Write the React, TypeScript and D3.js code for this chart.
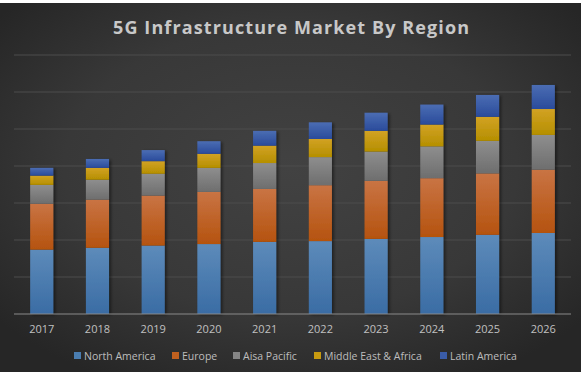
import React from "react";
import * as d3 from "d3";

const years = ["2017", "2018", "2019", "2020", "2021", "2022", "2023", "2024", "2025", "2026"];
const seriesNames = ["North America", "Europe", "Aisa Pacific", "Middle East & Africa", "Latin America"];
const northAmerica = [17.4, 17.9, 18.5, 18.9, 19.5, 19.7, 20.3, 20.8, 21.4, 21.9];
const europe = [12.4, 13.0, 13.5, 14.1, 14.3, 15.1, 15.7, 15.9, 16.6, 17.1];
const asiaPacific = [5.1, 5.4, 5.9, 6.5, 7.0, 7.6, 7.9, 8.6, 8.8, 9.4];
const middleEastAfrica = [2.5, 3.2, 3.4, 3.8, 4.7, 4.9, 5.6, 5.9, 6.5, 7.0];
const latinAmerica = [2.1, 2.4, 3.0, 3.4, 4.0, 4.5, 4.9, 5.4, 5.9, 6.5];
const yTicks = [0, 10, 20, 30, 40, 50, 60, 70];

const colorsTop = ["#5d8bba", "#c97444", "#8e8e8e", "#d2a224", "#4b6db3"];
const colorsBottom = ["#3a6ca4", "#b5530f", "#6e6e6e", "#b58f00", "#2a4b9b"];
const legendColors = ["#4a7db0", "#c0601f", "#858585", "#c79a10", "#3a5ca8"];

const W = 583;
const H = 372;
const plot = { left: 14, right: 571, top: 55, bottom: 314 };

export default function App() {
  const allSeries = [northAmerica, europe, asiaPacific, middleEastAfrica, latinAmerica];
  const table = years.map((y, i) => {
    const row: any = { year: y };
    seriesNames.forEach((s, k) => (row[s] = allSeries[k][i]));
    return row;
  });
  const stacked = d3.stack().keys(seriesNames)(table);
  const x = d3.scaleBand().domain(years).range([plot.left, plot.right]).paddingInner(0.585).paddingOuter(0.29);
  const y = d3.scaleLinear().domain([0, 70]).range([plot.bottom, plot.top]);
  const legendX = [74, 172, 233, 314, 440];

  return (
    <div style={{ position: "absolute", left: 0, top: 0 }}>
      <svg width={W} height={H} style={{ display: "block" }}>
        <defs>
          <radialGradient id="bg" cx="0.5" cy="0.45" r="0.65">
            <stop offset="0" stopColor="#424242" />
            <stop offset="0.6" stopColor="#383838" />
            <stop offset="1" stopColor="#262626" />
          </radialGradient>
          {seriesNames.map((s, k) => (
            <linearGradient key={s} id={`g${k}`} x1="0" y1="0" x2="0" y2="1">
              <stop offset="0" stopColor={colorsTop[k]} />
              <stop offset="1" stopColor={colorsBottom[k]} />
            </linearGradient>
          ))}
          <filter id="sh" x="-30%" y="-10%" width="160%" height="120%">
            <feDropShadow dx="2" dy="1" stdDeviation="1.5" floodColor="#000" floodOpacity="0.45" />
          </filter>
        </defs>
        <rect x={0} y={0} width={W} height={H} fill="#ffffff" />
        <rect x={0} y={3} width={581} height={H - 3} fill="url(#bg)" />
        {yTicks.slice(1).map((t) => (
          <line key={t} x1={plot.left} x2={plot.right} y1={y(t)} y2={y(t)} stroke="#4c4c4c" strokeWidth={1} />
        ))}
        <text
          x={291}
          y={34}
          textAnchor="middle"
          fill="#c8c8c8"
          fontFamily="'Open Sans', sans-serif"
          fontWeight="bold"
          fontSize={18}
          textLength={356}
          lengthAdjust="spacing"
        >
          5G Infrastructure Market By Region
        </text>
        <g filter="url(#sh)">
          {stacked.map((layer, k) =>
            layer.map((d, i) => (
              <rect
                key={`${k}-${i}`}
                x={x(years[i])}
                width={x.bandwidth()}
                y={y(d[1])}
                height={y(d[0]) - y(d[1])}
                fill={`url(#g${k})`}
              />
            ))
          )}
        </g>
        <line x1={plot.left} x2={plot.right} y1={plot.bottom} y2={plot.bottom} stroke="#8a8a8a" strokeWidth={1} />
        {years.map((yr) => (
          <text
            key={yr}
            x={(x(yr) as number) + x.bandwidth() / 2}
            y={333}
            textAnchor="middle"
            fill="#c0c0c0"
            fontFamily="'Open Sans', sans-serif"
            fontSize={11}
          >
            {yr}
          </text>
        ))}
        {seriesNames.map((s, k) => (
          <g key={s} transform={`translate(${legendX[k]},0)`}>
            <rect x={0} y={352} width={7} height={7} fill={legendColors[k]} />
            <text x={10} y={360} fill="#bdbdbd" fontFamily="'Open Sans', sans-serif" fontSize={10.5}>
              {s}
            </text>
          </g>
        ))}
      </svg>
    </div>
  );
}
